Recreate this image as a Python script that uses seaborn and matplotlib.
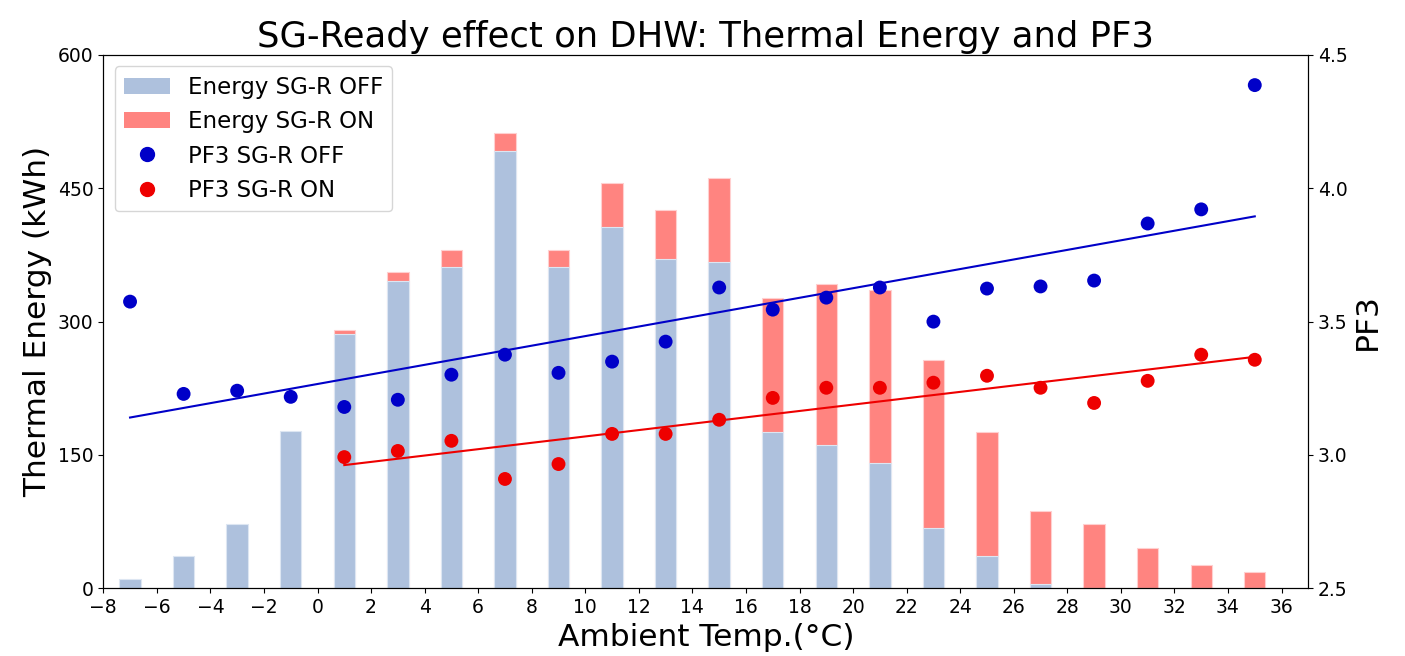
import numpy as np
import pandas as pd
import matplotlib
matplotlib.use("Agg")
import matplotlib.pyplot as plt
import seaborn as sns
from matplotlib.patches import Patch
from matplotlib.lines import Line2D

temps = [-7, -5, -3, -1, 1, 3, 5, 7, 9, 11, 13, 15, 17, 19, 21, 23, 25, 27, 29, 31, 33, 35]
energy_off = [10, 36, 72, 177, 286, 346, 361, 492, 361, 407, 370, 367, 176, 161, 141, 68, 36, 5, 0, 0, 0, 0]
energy_on = [0, 0, 0, 0, 291, 356, 381, 512, 381, 456, 426, 462, 327, 342, 336, 257, 176, 87, 72, 45, 26, 18]
pf3_off = [3.575, 3.229, 3.241, 3.218, 3.180, 3.207, 3.301, 3.376, 3.308, 3.350, 3.425,
           3.628, 3.545, 3.590, 3.628, 3.500, 3.624, 3.632, 3.654, 3.868, 3.921, 4.387]
temps_on = [1, 3, 5, 7, 9, 11, 13, 15, 17, 19, 21, 23, 25, 27, 29, 31, 33, 35]
pf3_on = [2.992, 3.015, 3.053, 2.910, 2.966, 3.079, 3.079, 3.132, 3.214, 3.252, 3.252,
          3.271, 3.297, 3.252, 3.195, 3.278, 3.376, 3.357]
legend_labels = ["Energy SG-R OFF", "Energy SG-R ON", "PF3 SG-R OFF", "PF3 SG-R ON"]

df = pd.DataFrame({"T": temps, "off": energy_off, "on": energy_on})
dfp_off = pd.DataFrame({"T": temps, "pf": pf3_off})
dfp_on = pd.DataFrame({"T": temps_on, "pf": pf3_on})

c_bar_off = "#AEC1DD"
c_bar_on = "#FF8480"
c_off = "#0000C8"
c_on = "#EE0000"

fig = plt.figure(figsize=(14.05, 6.56), dpi=100)
ax = fig.add_axes([0.0735, 0.1032, 0.8577, 0.813])

sns.barplot(data=df, x="T", y="on", native_scale=True, width=0.4, color=c_bar_on,
            saturation=1, edgecolor="#FFD0D0", linewidth=0.8, ax=ax, zorder=1)
sns.barplot(data=df, x="T", y="off", native_scale=True, width=0.4, color=c_bar_off,
            saturation=1, edgecolor="#DDE6F2", linewidth=0.8, ax=ax, zorder=2)

ax2 = ax.twinx()
sns.scatterplot(data=dfp_off, x="T", y="pf", color=c_off, s=100, edgecolor="none", ax=ax2, zorder=3)
sns.scatterplot(data=dfp_on, x="T", y="pf", color=c_on, s=100, edgecolor="none", ax=ax2, zorder=3)
sns.regplot(data=dfp_off, x="T", y="pf", scatter=False, ci=None, color=c_off,
            line_kws=dict(lw=1.5), ax=ax2)
sns.regplot(data=dfp_on, x="T", y="pf", scatter=False, ci=None, color=c_on,
            line_kws=dict(lw=1.5), ax=ax2)

ax.set_xlim(-8, 37)
ax.set_ylim(0, 600)
ax.set_yticks([0, 150, 300, 450, 600])
ax.set_xticks(np.arange(-8, 37, 2))
ax2.set_ylim(2.5, 4.5)
ax2.set_yticks([2.5, 3.0, 3.5, 4.0, 4.5])
ax2.set_yticklabels(["2.5", "3.0", "3.5", "4.0", "4.5"])

ax.tick_params(labelsize=13.5)
ax2.tick_params(labelsize=13.5)
ax.set_xlabel("Ambient Temp.(°C)", fontsize=22.5)
ax.set_ylabel("Thermal Energy (kWh)", fontsize=22.5)
ax2.set_ylabel("PF3", fontsize=22.5)
ax.set_title("SG-Ready effect on DHW: Thermal Energy and PF3", fontsize=25.5)

handles = [
    Patch(facecolor=c_bar_off, edgecolor="none"),
    Patch(facecolor=c_bar_on, edgecolor="none"),
    Line2D([], [], marker="o", ls="none", color=c_off, markersize=10),
    Line2D([], [], marker="o", ls="none", color=c_on, markersize=10),
]
ax2.legend(handles, legend_labels, loc="upper left", fontsize=16.5)

fig.savefig("out.png", dpi=100)
